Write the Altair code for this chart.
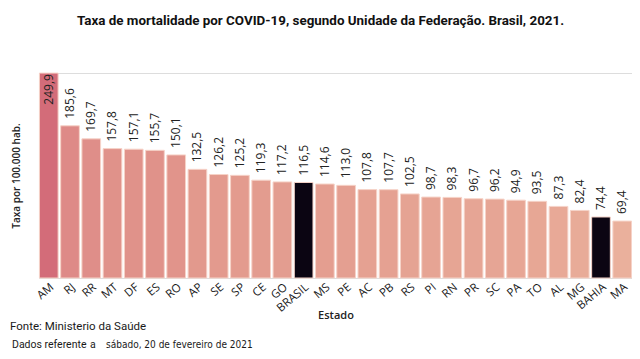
import altair as alt
import pandas as pd

estados = ["AM", "RJ", "RR", "MT", "DF", "ES", "RO", "AP", "SE", "SP", "CE", "GO", "BRASIL",
           "MS", "PE", "AC", "PB", "RS", "PI", "RN", "PR", "SC", "PA", "TO", "AL", "MG", "BAHIA", "MA"]
taxas = [249.9, 185.6, 169.7, 157.8, 157.1, 155.7, 150.1, 132.5, 126.2, 125.2, 119.3, 117.2, 116.5,
         114.6, 113.0, 107.8, 107.7, 102.5, 98.7, 98.3, 96.7, 96.2, 94.9, 93.5, 87.3, 82.4, 74.4, 69.4]
destaques = ["BRASIL", "BAHIA"]
titulo = "Taxa de mortalidade por COVID-19, segundo Unidade da Federação. Brasil, 2021."
fonte = "Fonte: Ministerio da Saúde"
referencia_a = "Dados referente"
referencia_b = "a"
referencia_c = "sábado, 20 de fevereiro de 2021"

df = pd.DataFrame({"Estado": estados, "Taxa": taxas})

FONT = "Open Sans"
NOTE = "Roboto"
NARROW = "DejaVu Sans Condensed, sans-serif"

base = alt.Chart(df).transform_calculate(
    rotulo="replace(format(datum.Taxa, '.1f'), '.', ',')"
)

x = alt.X(
    "Estado:N", sort=None, title="Estado",
    scale=alt.Scale(paddingInner=0.12, paddingOuter=0.02),
    axis=alt.Axis(labelAngle=-40, labelAlign="right", labelBaseline="top", ticks=False,
                  domain=False, labelFontSize=11.5, labelColor="#1a1a1a", labelFont=FONT,
                  labelPadding=3, titleFont=FONT, titleFontSize=11, titleFontWeight=600,
                  titleColor="#222222", titlePadding=-4),
)
y = alt.Y(
    "Taxa:Q", scale=alt.Scale(domain=[0, 250]), title="Taxa por 100.000 hab.",
    axis=alt.Axis(labels=False, ticks=False, domain=False, grid=False, titleFont=FONT,
                  titleFontSize=10, titleFontWeight=600, titleColor="#222222", titlePadding=18),
)

cor = alt.condition(
    alt.FieldOneOfPredicate(field="Estado", oneOf=destaques),
    alt.value("#0b0512"),
    alt.Color("Taxa:Q", legend=None,
              scale=alt.Scale(domain=[69.4, 120, 185, 249.9],
                              range=["#EAB09C", "#E39C8F", "#DE8A87", "#D36C79"])),
)

barras = base.mark_bar(stroke="#f6d3c8", strokeWidth=1).encode(x=x, y=y, color=cor)

rot_fora = base.transform_filter("datum.Taxa < 240").mark_text(
    angle=270, align="left", baseline="middle", dx=7, fontSize=12, font=FONT, color="#222222"
).encode(x=x, y=y, text="rotulo:N")

rot_dentro = base.transform_filter("datum.Taxa >= 240").mark_text(
    angle=270, align="right", baseline="middle", dx=-1, fontSize=12, font=FONT, color="#222222"
).encode(x=x, y=y, text="rotulo:N")


def nota(texto, px, py, font=NOTE, size=11.5, weight="normal"):
    return alt.Chart(pd.DataFrame({"nota": [texto]})).mark_text(
        align="left", baseline="middle", fontSize=size, font=font, fontWeight=weight,
        color="#1a1a1a"
    ).encode(x=alt.value(px), y=alt.value(py), text="nota:N")


notas = [
    nota(fonte, -29, 254),
    nota(referencia_a, -27, 272, size=10.5),
    nota(referencia_b, 51, 272, size=10.5),
    nota(referencia_c, 67, 272, font=NARROW, size=10),
]

chart = alt.layer(barras, rot_fora, rot_dentro, *notas).properties(
    width=593, height=205,
    autosize=alt.AutoSizeParams(type="none"),
    padding={"left": 31, "top": 65, "right": 0, "bottom": 73},
    title=alt.TitleParams(text=titulo, font="Roboto", fontSize=13.4, fontWeight="bold",
                          color="#111111", anchor="middle", offset=45, dx=-15),
).configure_view(stroke=None).configure(background="white")

chart.save("out.html", embed_options={"renderer": "svg", "actions": False})
